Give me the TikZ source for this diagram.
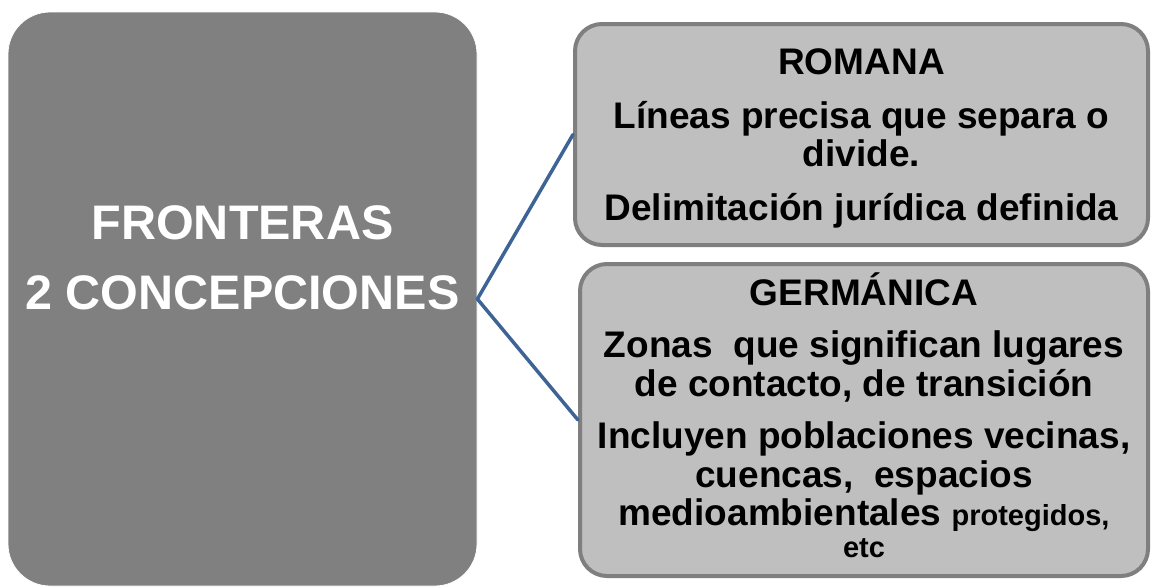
\documentclass[tikz,border=0pt]{standalone}
\usepackage{fontspec}
\setmainfont{Liberation Sans}
\usetikzlibrary{positioning}
\definecolor{cajagris}{RGB}{128,128,128}
\definecolor{cajaclara}{RGB}{191,191,191}
\definecolor{bordegris}{RGB}{127,127,127}
\definecolor{lineaazul}{RGB}{62,100,150}
\tikzset{
	principal/.style={rectangle, rounded corners=42pt, fill=cajagris, draw=white, line width=0.8pt, inner sep=0pt, minimum width=469pt, minimum height=574pt},
	titulo/.style={text=white, align=center, inner sep=0pt, font=\fontsize{48.5}{70}\selectfont\bfseries},
	concepto/.style={rectangle, rounded corners=27pt, fill=cajaclara, draw=bordegris, line width=4pt, inner sep=0pt},
	texto/.style={align=center, inner sep=0pt, font=\fontsize{37}{38.5}\selectfont\bfseries},
	conector/.style={draw=lineaazul, line width=3.5pt, line cap=round}
}
\begin{document}
\begin{tikzpicture}[x=1pt, y=-1pt, line join=round]
	\useasboundingbox (0,0) rectangle (1153,587);
	% caja principal
	\node[principal] (fronteras) at (242.5,299) {};
	\node[titulo] (lema) at ([yshift=41.5pt]fronteras.center) {FRONTERAS\\2 CONCEPCIONES};
	% las dos concepciones
	\node[concepto, minimum width=573pt, minimum height=221pt] (romana) at (861.5,134.5) {};
	\node[concepto, minimum width=568pt, minimum height=312pt] (germanica) at (864,420) {};
	\node[texto] (romanatxt) at ([yshift=-4pt]romana.center)
		{ROMANA\\[15pt]L\'ineas precisa que separa o\\divide.\\[15pt]Delimitaci\'on jur\'idica definida};
	\node[texto] (germanicatxt) at ([yshift=5pt]germanica.center)
		{GERM\'ANICA\\[14pt]Zonas~ que significan lugares\\de contacto, de transici\'on\\[14pt]Incluyen poblaciones vecinas,\\cuencas,~ espacios\\medioambientales {\fontsize{29}{30}\selectfont protegidos,}\\[-7pt]{\fontsize{29}{30}\selectfont etc}};
	\draw[conector] (fronteras.east) -- (romana.west);
	\draw[conector] (fronteras.east) -- (germanica.west);
\end{tikzpicture}
\end{document}
